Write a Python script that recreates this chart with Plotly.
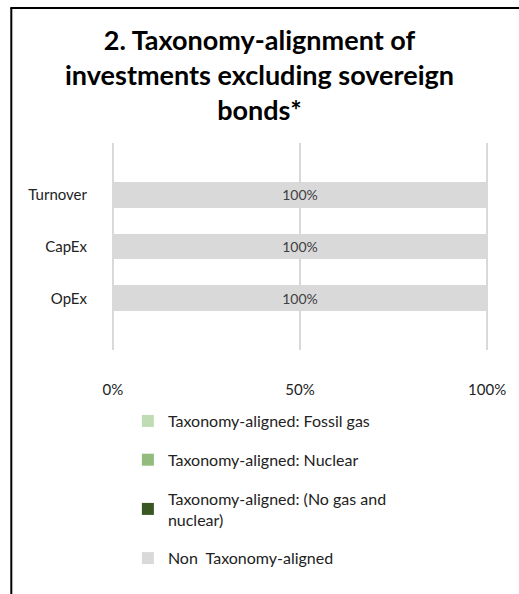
import plotly.graph_objects as go

categories = ["OpEx", "CapEx", "Turnover"]
series_names = [
    "Taxonomy-aligned: Fossil gas",
    "Taxonomy-aligned: Nuclear",
    "Taxonomy-aligned: (No gas and<br>nuclear)",
    "Non  Taxonomy-aligned",
]
fossil_gas = [0, 0, 0]
nuclear = [0, 0, 0]
no_gas_nuclear = [0, 0, 0]
non_aligned = [100, 100, 100]
series_values = [fossil_gas, nuclear, no_gas_nuclear, non_aligned]
colors = ["#C0DCB4", "#93BB7D", "#385723", "#D9D9D9"]
x_tickvals = [0, 50, 100]
x_ticktext = ["0%", "50%", "100%"]

FONT = "Lato, 'Open Sans', sans-serif"

fig = go.Figure()
for i, (name, vals, col) in enumerate(zip(series_names, series_values, colors)):
    texts = [f"{v:.0f}%" if v > 0 else "" for v in vals]
    fig.add_trace(go.Bar(
        y=categories, x=vals, name=name, orientation="h",
        marker=dict(color=col, line=dict(width=0)),
        text=texts, textposition="inside", insidetextanchor="middle",
        textfont=dict(family=FONT, size=14, color="#404040"),
        width=0.5, legendgroup=f"g{i}",
    ))

# plot area in pixels: x range -0.5..100.5 so 0 -> 113, 100 -> 487
W, H = 519, 594
L, R, T, B = 111.13, 30.13, 143, 244
pw, ph = W - L - R, H - T - B

def px_x(p):
    return (p - L) / pw

def px_y(p):
    return (H - B - p) / ph

fig.update_layout(
    width=W, height=H,
    margin=dict(l=L, r=R, t=T, b=B, pad=0),
    paper_bgcolor="white", plot_bgcolor="white",
    barmode="stack",
    font=dict(family=FONT, size=14, color="#222222"),
    title=dict(
        text="<b>2. Taxonomy-alignment of<br>investments excluding sovereign<br>bonds*</b>",
        x=0.5, xanchor="center", xref="container",
        y=1 - 50 / H, yanchor="top", yref="container",
        font=dict(family=FONT, size=27, color="#000000"),
    ),
    xaxis=dict(
        range=[-0.5, 100.5], tickvals=x_tickvals, ticktext=x_ticktext,
        showgrid=True, gridcolor="#D9D9D9", gridwidth=1.5,
        zeroline=False, showline=False,
        ticks="outside", ticklen=26, tickcolor="rgba(0,0,0,0)",
        tickfont=dict(family=FONT, size=15, color="#222222"),
        fixedrange=True,
    ),
    yaxis=dict(
        categoryorder="array", categoryarray=categories,
        range=[-1, 3], showgrid=False, zeroline=False, showline=False,
        ticks="outside", ticklen=20, tickcolor="rgba(0,0,0,0)",
        tickfont=dict(family=FONT, size=15, color="#222222"),
        fixedrange=True,
    ),
    legend=dict(
        orientation="v", traceorder="grouped", tracegroupgap=15,
        x=px_x(128), xanchor="left", y=px_y(404), yanchor="top",
        font=dict(family=FONT, size=16, color="#222222"),
        bgcolor="rgba(0,0,0,0)",
    ),
    showlegend=True,
    shapes=[
        dict(type="line", xref="paper", yref="paper",
             x0=px_x(11.5), x1=px_x(11.5), y0=px_y(8), y1=px_y(600),
             line=dict(color="black", width=2)),
        dict(type="line", xref="paper", yref="paper",
             x0=px_x(10.5), x1=px_x(525), y0=px_y(8), y1=px_y(8),
             line=dict(color="black", width=2)),
    ],
)

fig.write_html("out.html", config={"displayModeBar": False},
               post_script="document.body.style.margin='0';")
